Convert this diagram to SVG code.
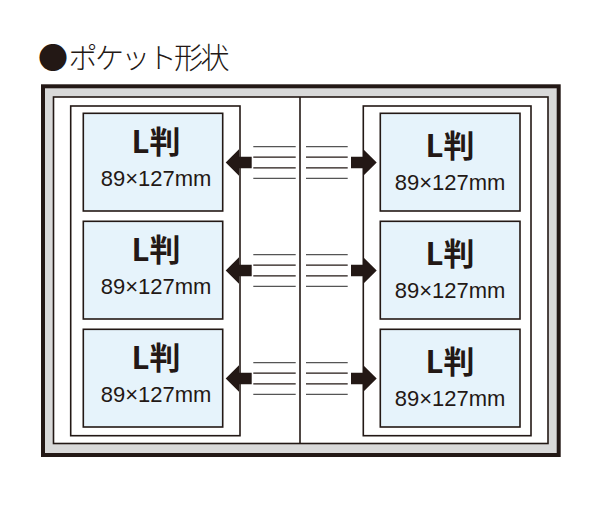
<svg xmlns="http://www.w3.org/2000/svg" width="600" height="518" viewBox="0 0 600 518">
<style>
.page{fill:#fff;stroke:#231815;stroke-width:1.6}
.photo{fill:#e6f3fb;stroke:#231815;stroke-width:1.6}
.t1{font-family:"Noto Sans CJK JP","Liberation Sans",sans-serif;font-weight:bold;font-size:31px;fill:#231815;text-anchor:middle}
.t2{font-family:"Liberation Sans","Noto Sans",sans-serif;font-size:22px;fill:#231815;text-anchor:middle}
.ln{stroke:#555;stroke-width:1.2}
.ld{stroke:#231815;stroke-width:1.2}
.arr{fill:#231815}
</style>
<rect width="600" height="518" fill="#fff"/>
<g id="title">
<text y="69" font-family="'Noto Sans CJK JP',sans-serif" font-weight="300" fill="#231815"><tspan x="38" font-size="30">●</tspan><tspan x="68.5" font-size="29" letter-spacing="-2.6">ポケット形状</tspan></text>
</g>
<g id="album">
<rect x="43" y="86.3" width="515.7" height="368.7" fill="#d9d9d9" stroke="#231815" stroke-width="4"/>
<rect x="53.5" y="97" width="494.5" height="346.5" fill="#fff" stroke="#231815" stroke-width="1.6"/>
<line x1="300" y1="97" x2="300" y2="443.5" stroke="#231815" stroke-width="1.6"/>
</g>
<g id="left-page">
<rect class="page" x="70.7" y="106" width="169.3" height="329.7"/>
</g>
<g id="right-page">
<rect class="page" x="363.3" y="106" width="167.7" height="329.7"/>
</g>
<g id="photo-l1">
<rect class="photo" x="83.3" y="113.3" width="139.4" height="97.7"/>
<text class="t1" x="156" y="152.5">L判</text>
<text class="t2" x="156" y="186">89×127mm</text>
</g>
<g id="photo-l2">
<rect class="photo" x="83.3" y="221.3" width="139.4" height="97.7"/>
<text class="t1" x="156" y="260.5">L判</text>
<text class="t2" x="156" y="294">89×127mm</text>
</g>
<g id="photo-l3">
<rect class="photo" x="83.3" y="329.3" width="139.4" height="97.7"/>
<text class="t1" x="156" y="368.5">L判</text>
<text class="t2" x="156" y="402">89×127mm</text>
</g>
<g id="photo-r1">
<rect class="photo" x="380.3" y="113.3" width="139.7" height="97.7"/>
<text class="t1" x="450" y="157">L判</text>
<text class="t2" x="450" y="190">89×127mm</text>
</g>
<g id="photo-r2">
<rect class="photo" x="380.3" y="221.3" width="139.7" height="97.7"/>
<text class="t1" x="450" y="265">L判</text>
<text class="t2" x="450" y="298">89×127mm</text>
</g>
<g id="photo-r3">
<rect class="photo" x="380.3" y="329.3" width="139.7" height="97.7"/>
<text class="t1" x="450" y="373">L判</text>
<text class="t2" x="450" y="406">89×127mm</text>
</g>
<g id="connectors">
<g id="row1" transform="translate(0,162.5)">
<line class="ln" x1="253.3" y1="-15.8" x2="295.7" y2="-15.8"/>
<line class="ld" x1="253.3" y1="-5.3" x2="295.7" y2="-5.3"/>
<line class="ld" x1="253.3" y1="5.3" x2="295.7" y2="5.3"/>
<line class="ln" x1="253.3" y1="15.8" x2="295.7" y2="15.8"/>
<line class="ln" x1="306" y1="-15.8" x2="347.7" y2="-15.8"/>
<line class="ld" x1="306" y1="-5.3" x2="347.7" y2="-5.3"/>
<line class="ld" x1="306" y1="5.3" x2="347.7" y2="5.3"/>
<line class="ln" x1="306" y1="15.8" x2="347.7" y2="15.8"/>
<polygon class="arr" points="225.7,0 239,-13.3 239,-5.8 251.7,-5.8 251.7,5.8 239,5.8 239,13.3"/>
<polygon class="arr" points="376.7,0 363.3,-13.3 363.3,-5.8 351,-5.8 351,5.8 363.3,5.8 363.3,13.3"/>
</g>
<g id="row2" transform="translate(0,270.5)">
<line class="ln" x1="253.3" y1="-15.8" x2="295.7" y2="-15.8"/>
<line class="ld" x1="253.3" y1="-5.3" x2="295.7" y2="-5.3"/>
<line class="ld" x1="253.3" y1="5.3" x2="295.7" y2="5.3"/>
<line class="ln" x1="253.3" y1="15.8" x2="295.7" y2="15.8"/>
<line class="ln" x1="306" y1="-15.8" x2="347.7" y2="-15.8"/>
<line class="ld" x1="306" y1="-5.3" x2="347.7" y2="-5.3"/>
<line class="ld" x1="306" y1="5.3" x2="347.7" y2="5.3"/>
<line class="ln" x1="306" y1="15.8" x2="347.7" y2="15.8"/>
<polygon class="arr" points="225.7,0 239,-13.3 239,-5.8 251.7,-5.8 251.7,5.8 239,5.8 239,13.3"/>
<polygon class="arr" points="376.7,0 363.3,-13.3 363.3,-5.8 351,-5.8 351,5.8 363.3,5.8 363.3,13.3"/>
</g>
<g id="row3" transform="translate(0,378.5)">
<line class="ln" x1="253.3" y1="-15.8" x2="295.7" y2="-15.8"/>
<line class="ld" x1="253.3" y1="-5.3" x2="295.7" y2="-5.3"/>
<line class="ld" x1="253.3" y1="5.3" x2="295.7" y2="5.3"/>
<line class="ln" x1="253.3" y1="15.8" x2="295.7" y2="15.8"/>
<line class="ln" x1="306" y1="-15.8" x2="347.7" y2="-15.8"/>
<line class="ld" x1="306" y1="-5.3" x2="347.7" y2="-5.3"/>
<line class="ld" x1="306" y1="5.3" x2="347.7" y2="5.3"/>
<line class="ln" x1="306" y1="15.8" x2="347.7" y2="15.8"/>
<polygon class="arr" points="225.7,0 239,-13.3 239,-5.8 251.7,-5.8 251.7,5.8 239,5.8 239,13.3"/>
<polygon class="arr" points="376.7,0 363.3,-13.3 363.3,-5.8 351,-5.8 351,5.8 363.3,5.8 363.3,13.3"/>
</g>
</g>
</svg>
